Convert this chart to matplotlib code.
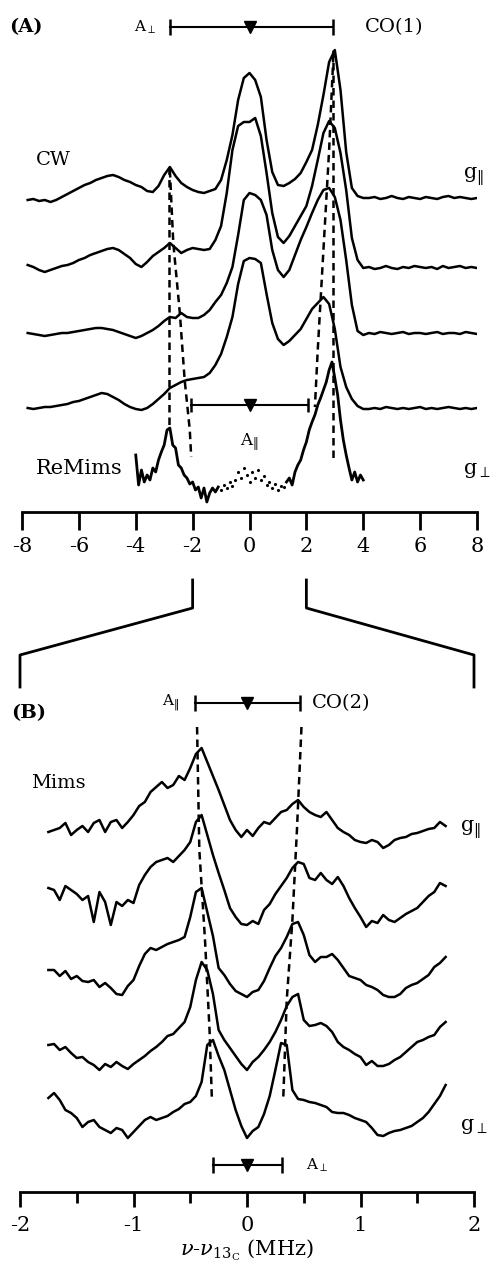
import numpy as np
import matplotlib
matplotlib.use("Agg")
import matplotlib.pyplot as plt
from matplotlib.lines import Line2D

plt.rcParams['font.family'] = ['DejaVu Serif']
plt.rcParams['mathtext.fontset'] = 'dejavuserif'
plt.rcParams['axes.unicode_minus'] = False

# ---------------- data ----------------
# (A) CW ENDOR, 0.2 MHz steps from -7.8 to 8.2 MHz (signal above each trace's baseline)
cw_freq = np.round(np.arange(-7.8, 8.21, 0.2), 2)
cw_1 = [0, 1, -1, 0, -2, 0, 3, 6, 9, 12,
        15, 17, 20, 22, 24, 25, 23, 20, 18, 15,
        13, 9, 8, 14, 25, 33, 24, 17, 13, 10,
        8, 7, 9, 11, 20, 40, 65, 100, 122, 127,
        120, 103, 60, 28, 15, 14, 17, 21, 27, 38,
        50, 75, 105, 138, 150, 110, 48, 12, 4, 2,
        2, 3, 1, 2, 4, 2, 1, 3, 2, 1,
        3, 2, 1, 3, 4, 2, 3, 2, 1, 2,
        2]
cw_2 = [3, 1, -2, -4, -2, 0, 2, 3, 5, 8,
        10, 13, 15, 17, 19, 20, 18, 14, 10, 4,
        1, 6, 12, 16, 20, 25, 20, 15, 18, 20,
        19, 18, 19, 28, 42, 75, 118, 142, 146, 146,
        150, 132, 95, 55, 31, 25, 32, 42, 52, 62,
        82, 108, 135, 147, 140, 115, 78, 30, 8, 0,
        1, -1, 0, 2, 0, -1, 1, 0, 2, 1,
        0, 1, -1, 2, 0, 1, 2, 0, 1, 0,
        1]
cw_3 = [2, 1, 0, -1, 0, 1, 2, 2, 3, 4,
        5, 6, 7, 7, 6, 5, 3, 1, -1, -3,
        -1, 2, 5, 9, 14, 18, 17, 22, 18, 17,
        17, 20, 25, 33, 40, 52, 68, 100, 135, 142,
        140, 135, 120, 85, 65, 58, 65, 80, 95, 108,
        122, 135, 145, 147, 138, 115, 75, 30, 4, 0,
        2, 1, 3, 2, 1, 2, 3, 1, 2, 2,
        1, 2, 3, 1, 2, 2, 1, 3, 2, 1,
        2]
cw_4 = [1, 0, 1, 2, 2, 3, 4, 5, 7, 8,
        10, 12, 14, 16, 15, 12, 9, 5, 2, 0,
        -1, 1, 5, 10, 15, 21, 24, 27, 29, 30,
        31, 32, 36, 44, 55, 72, 92, 125, 148, 151,
        150, 146, 115, 86, 70, 64, 68, 74, 80, 90,
        100, 106, 112, 105, 80, 42, 22, 10, 3, 0,
        0, 1, 0, 2, 1, 0, 1, 0, 1, 2,
        0, 1, 0, 1, 2, 1, 0, 1, 0, 1,
        0]

# (A) ReMims, 0.1 MHz steps from -4 to 4 MHz
remims_freq = np.round(np.arange(-4.0, 4.01, 0.1), 2)
remims = [35, 5, 20, 8, 15, 10, 22, 18, 30, 38,
          45, 60, 62, 45, 42, 25, 22, 15, 12, 6,
          8, 0, 3, -8, 2, -12, -3, 2, -2, 3,
          0, 5, 2, 8, 4, 10, 18, 12, 22, 15,
          8, 18, 12, 20, 10, 14, 5, 8, 2, 6,
          0, 4, 3, 8, 12, 5, 18, 25, 30, 40,
          48, 60, 68, 75, 85, 92, 100, 108, 120, 128,
          112, 95, 70, 50, 35, 22, 10, 18, 8, 15, 10]

# (B) Mims ENDOR, 0.05 MHz steps from -1.75 to 1.75 MHz
mims_freq = np.round(np.arange(-1.75, 1.7501, 0.05), 2)
mims_1 = [18, 20, 22, 27, 15, 20, 24, 18, 27, 30,
          18, 28, 30, 22, 28, 35, 44, 48, 58, 63,
          68, 62, 65, 74, 70, 82, 96, 102, 88, 74,
          60, 45, 30, 20, 13, 20, 14, 22, 28, 26,
          32, 38, 40, 46, 50, 43, 38, 35, 33, 38,
          30, 22, 18, 15, 10, 8, 7, 10, 8, 2,
          5, 10, 12, 13, 16, 17, 19, 21, 22, 28, 24]
mims_2 = [42, 40, 30, 44, 40, 36, 30, 34, 8, 38,
          28, 5, 28, 24, 30, 27, 45, 55, 63, 68,
          70, 72, 68, 74, 80, 88, 108, 115, 95, 75,
          57, 40, 22, 13, 6, 5, 9, 6, 20, 26,
          36, 44, 52, 62, 68, 66, 52, 50, 57, 50,
          46, 53, 44, 32, 22, 13, 3, 9, 7, 15,
          10, 8, 12, 16, 19, 22, 28, 34, 38, 47, 44]
mims_3 = [30, 30, 24, 29, 21, 24, 19, 18, 20, 13,
          17, 12, 6, 5, 14, 20, 34, 46, 52, 50,
          53, 56, 58, 60, 63, 83, 108, 112, 88, 64,
          32, 25, 16, 9, 6, 3, 8, 10, 19, 32,
          44, 52, 63, 76, 78, 65, 45, 38, 43, 43,
          46, 40, 32, 24, 22, 20, 15, 13, 10, 5,
          3, 3, 6, 12, 15, 17, 21, 25, 33, 37, 43]
mims_4 = [27, 28, 22, 25, 19, 14, 15, 10, 7, 2,
          8, 5, 10, 6, 3, 8, 12, 16, 21, 25,
          30, 36, 38, 44, 50, 65, 92, 110, 102, 78,
          42, 32, 24, 16, 8, 2, 10, 15, 22, 30,
          40, 52, 66, 75, 78, 52, 46, 47, 49, 46,
          40, 30, 25, 22, 18, 15, 7, 11, 6, 6,
          8, 12, 15, 20, 25, 30, 32, 35, 37, 45, 50]
mims_5 = [42, 47, 40, 30, 27, 22, 13, 18, 20, 13,
          10, 7, 12, 10, 2, 8, 14, 20, 23, 20,
          22, 24, 28, 31, 36, 38, 44, 58, 95, 100,
          84, 70, 50, 30, 14, 2, 9, 13, 26, 44,
          70, 97, 95, 50, 41, 40, 38, 37, 35, 33,
          28, 27, 27, 25, 22, 20, 18, 12, 5, 4,
          7, 9, 10, 12, 14, 18, 22, 28, 36, 44, 55]

# guide lines (x in MHz)
guide_a_left = ([-2.82, -2.82], [345, 82])
guide_a_left2 = ([-2.8, -2.68, -2.45, -2.28, -2.1, -2.05], [342, 269, 199, 132, 82, 55])
guide_a_right = ([2.93, 2.93], [462, 52])
guide_a_right2 = ([2.95, 2.8, 2.62, 2.5, 2.4, 2.3], [457, 362, 272, 212, 162, 105])
guide_b_left = ([-0.44, -0.42, -0.37, -0.33, -0.31], [465, 342, 252, 162, 95])
guide_b_right = ([0.48, 0.44, 0.40, 0.35, 0.32], [465, 362, 272, 192, 95])

# ---------------- layout ----------------
W, H = 491, 1272
fig = plt.figure(figsize=(W / 100, H / 100), dpi=100)

ax_a = fig.add_axes([22 / W, 1 - 512 / H, 455 / W, 512 / H])
ax_b = fig.add_axes([20 / W, 1 - 1192 / H, 454 / W, 502 / H])

lw = 1.8
dash = (0, (3, 2))

for ax in (ax_a, ax_b):
    ax.patch.set_visible(False)
    for s in ("top", "left", "right"):
        ax.spines[s].set_visible(False)
    ax.spines["bottom"].set_linewidth(2)
    ax.set_yticks([])

# ----- panel A -----
cw_offsets = [312, 244, 177, 103]
for trace, off in zip([cw_1, cw_2, cw_3, cw_4], cw_offsets):
    ax_a.plot(cw_freq, np.array(trace) + off, color="k", lw=lw)

rem = np.array(remims) + 22
solid_l = remims_freq <= -1.1
solid_r = remims_freq >= 1.3
mid = ~(solid_l | solid_r)
ax_a.plot(remims_freq[solid_l], rem[solid_l], color="k", lw=2)
ax_a.plot(remims_freq[solid_r], rem[solid_r], color="k", lw=2)
ax_a.plot(remims_freq[mid], rem[mid], ".", color="k", ms=2.5)

for gx, gy in (guide_a_left, guide_a_left2, guide_a_right, guide_a_right2):
    ax_a.plot(gx, gy, color="k", lw=1.8, ls=dash)

# scale bars
ax_a.plot([-2.81, 2.92], [485, 485], color="k", lw=1.5)
ax_a.plot([-2.81, 2.92], [485, 485], "|", color="k", ms=11, mew=1.8)
ax_a.plot([0], [485], "v", color="k", ms=9)
ax_a.plot([-2.05, 2.07], [107, 107], color="k", lw=1.5)
ax_a.plot([-2.05, 2.07], [107, 107], "|", color="k", ms=10, mew=1.8)
ax_a.plot([0], [107], "v", color="k", ms=9)

ax_a.text(-8.45, 485, "(A)", fontsize=14, fontweight="bold", va="center", ha="left")
ax_a.text(-3.3, 485, r"A$_\perp$", fontsize=11, va="center", ha="right")
ax_a.text(4.05, 485, "CO(1)", fontsize=14, va="center", ha="left")
ax_a.text(-7.5, 352, "CW", fontsize=14, va="center", ha="left")
ax_a.text(7.5, 335, r"g$_{\Vert}$", fontsize=15, va="center", ha="left")
ax_a.text(-7.5, 44, "ReMims", fontsize=15, va="center", ha="left")
ax_a.text(7.5, 42, r"g$_\perp$", fontsize=15, va="center", ha="left")
ax_a.text(0, 70, r"A$_{\Vert}$", fontsize=12, va="center", ha="center")

ax_a.set_xlim(-8, 8)
ax_a.set_ylim(0, 512)
ax_a.set_xticks(np.arange(-8, 9, 2))
ax_a.tick_params(axis="x", direction="out", length=13, width=2, pad=5, labelsize=15)

# ----- panel B -----
mims_offsets = [342, 262, 192, 120, 52]
for trace, off in zip([mims_1, mims_2, mims_3, mims_4, mims_5], mims_offsets):
    ax_b.plot(mims_freq, np.array(trace) + off, color="k", lw=lw)

for gx, gy in (guide_b_left, guide_b_right):
    ax_b.plot(gx, gy, color="k", lw=1.8, ls=dash)

ax_b.plot([-0.46, 0.47], [489, 489], color="k", lw=1.5)
ax_b.plot([-0.46, 0.47], [489, 489], "|", color="k", ms=11, mew=1.8)
ax_b.plot([0], [489], "v", color="k", ms=9)
ax_b.plot([-0.3, 0.31], [27, 27], color="k", lw=1.5)
ax_b.plot([-0.3, 0.31], [27, 27], "|", color="k", ms=11, mew=1.8)
ax_b.plot([0], [27], "v", color="k", ms=9)

ax_b.text(-2.08, 479, "(B)", fontsize=14, fontweight="bold", va="center", ha="left")
ax_b.text(-0.6, 489, r"A$_{\Vert}$", fontsize=11, va="center", ha="right")
ax_b.text(0.57, 489, "CO(2)", fontsize=14, va="center", ha="left")
ax_b.text(-1.9, 409, "Mims", fontsize=14, va="center", ha="left")
ax_b.text(1.88, 362, r"g$_{\Vert}$", fontsize=15, va="center", ha="left")
ax_b.text(1.88, 65, r"g$_\perp$", fontsize=15, va="center", ha="left")
ax_b.text(0.52, 27, r"A$_\perp$", fontsize=11, va="center", ha="left")

ax_b.set_xlim(-2, 2)
ax_b.set_ylim(0, 502)
ax_b.set_xticks([-2, -1, 0, 1, 2])
ax_b.set_xticks([-1.5, -0.5, 0.5, 1.5], minor=True)
ax_b.tick_params(axis="x", which="major", direction="out", length=11, width=2, pad=6, labelsize=15)
ax_b.tick_params(axis="x", which="minor", direction="out", length=8, width=2)
ax_b.set_xlabel(r"$\nu$-$\nu_{13_{\rm C}}$ (MHz)", fontsize=15, labelpad=2)

# ----- zoom connector between the panels -----
fig.canvas.draw()
inv = fig.transFigure.inverted()
for xa, xb in ((-2, -2), (2, 2)):
    pa = ax_a.transData.transform((xa, 0))[0]
    pb = ax_b.transData.transform((xb, 0))[0]
    pts = [(pa, H - 580), (pa, H - 608), (pb, H - 655), (pb, H - 687)]
    fp = inv.transform(pts)
    fig.add_artist(Line2D(fp[:, 0], fp[:, 1], color="k", lw=2, transform=fig.transFigure))

fig.savefig("out.png", dpi=100)
